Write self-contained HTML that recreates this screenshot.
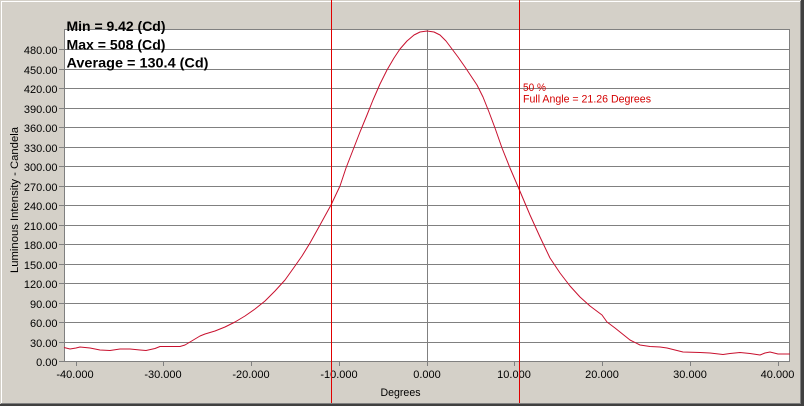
<!DOCTYPE html>
<html>
<head>
<meta charset="utf-8">
<style>
html,body{margin:0;padding:0;background:#D4D0C8;}
svg{display:block;}
text{font-family:"Liberation Sans",Arial,sans-serif;}
</style>
</head>
<body>
<svg width="804" height="406" viewBox="0 0 804 406" xmlns="http://www.w3.org/2000/svg">
  <rect x="0" y="0" width="804" height="406" fill="#D4D0C8"/>
  <!-- window frame -->
  <rect x="1" y="1" width="799" height="1" fill="#ffffff"/>
  <rect x="1" y="1" width="1" height="402" fill="#ffffff"/>
  <rect x="800" y="1" width="1" height="402" fill="#808080"/>
  <rect x="801" y="0" width="3" height="406" fill="#404040"/>
  <rect x="1" y="403" width="800" height="1" fill="#808080"/>
  <rect x="0" y="404" width="804" height="2" fill="#404040"/>

  <!-- plot area -->
  <rect x="64" y="29" width="726" height="333" fill="#808080"/>
  <rect x="65" y="30" width="724" height="331" fill="#ffffff"/>

  <!-- horizontal gridlines -->
  <g fill="#808080">
    <rect x="64" y="342" width="726" height="1"/>
    <rect x="64" y="322" width="726" height="1"/>
    <rect x="64" y="303" width="726" height="1"/>
    <rect x="64" y="283" width="726" height="1"/>
    <rect x="64" y="264" width="726" height="1"/>
    <rect x="64" y="244" width="726" height="1"/>
    <rect x="64" y="225" width="726" height="1"/>
    <rect x="64" y="205" width="726" height="1"/>
    <rect x="64" y="186" width="726" height="1"/>
    <rect x="64" y="166" width="726" height="1"/>
    <rect x="64" y="147" width="726" height="1"/>
    <rect x="64" y="127" width="726" height="1"/>
    <rect x="64" y="108" width="726" height="1"/>
    <rect x="64" y="88" width="726" height="1"/>
    <rect x="64" y="69" width="726" height="1"/>
    <rect x="64" y="49" width="726" height="1"/>
    <!-- center vertical gridline -->
    <rect x="427" y="29" width="1" height="332"/>
  </g>

  <!-- y ticks -->
  <g fill="#808080">
    <rect x="59" y="361" width="5" height="1"/>
    <rect x="59" y="342" width="5" height="1"/>
    <rect x="59" y="322" width="5" height="1"/>
    <rect x="59" y="303" width="5" height="1"/>
    <rect x="59" y="283" width="5" height="1"/>
    <rect x="59" y="264" width="5" height="1"/>
    <rect x="59" y="244" width="5" height="1"/>
    <rect x="59" y="225" width="5" height="1"/>
    <rect x="59" y="205" width="5" height="1"/>
    <rect x="59" y="186" width="5" height="1"/>
    <rect x="59" y="166" width="5" height="1"/>
    <rect x="59" y="147" width="5" height="1"/>
    <rect x="59" y="127" width="5" height="1"/>
    <rect x="59" y="108" width="5" height="1"/>
    <rect x="59" y="88" width="5" height="1"/>
    <rect x="59" y="69" width="5" height="1"/>
    <rect x="59" y="49" width="5" height="1"/>
  </g>

  <!-- x ticks -->
  <g fill="#808080">
    <rect x="76" y="361" width="1" height="5"/>
    <rect x="163" y="361" width="1" height="5"/>
    <rect x="251" y="361" width="1" height="5"/>
    <rect x="339" y="361" width="1" height="5"/>
    <rect x="427" y="361" width="1" height="5"/>
    <rect x="514" y="361" width="1" height="5"/>
    <rect x="602" y="361" width="1" height="5"/>
    <rect x="690" y="361" width="1" height="5"/>
    <rect x="778" y="361" width="1" height="5"/>
  </g>

  <!-- y tick labels -->
  <g font-size="11" fill="#000" text-anchor="end">
    <text x="57.5" y="366">0.00</text>
    <text x="57.5" y="347">30.00</text>
    <text x="57.5" y="327">60.00</text>
    <text x="57.5" y="308">90.00</text>
    <text x="57.5" y="288">120.00</text>
    <text x="57.5" y="269">150.00</text>
    <text x="57.5" y="249">180.00</text>
    <text x="57.5" y="230">210.00</text>
    <text x="57.5" y="210">240.00</text>
    <text x="57.5" y="191">270.00</text>
    <text x="57.5" y="171">300.00</text>
    <text x="57.5" y="152">330.00</text>
    <text x="57.5" y="132">360.00</text>
    <text x="57.5" y="113">390.00</text>
    <text x="57.5" y="93">420.00</text>
    <text x="57.5" y="74">450.00</text>
    <text x="57.5" y="54">480.00</text>
  </g>

  <!-- x tick labels -->
  <g font-size="11" fill="#000" text-anchor="middle">
    <text x="75" y="378">-40.000</text>
    <text x="163" y="378">-30.000</text>
    <text x="251" y="378">-20.000</text>
    <text x="339" y="378">-10.000</text>
    <text x="427" y="378">0.000</text>
    <text x="514" y="378">10.000</text>
    <text x="602" y="378">20.000</text>
    <text x="690" y="378">30.000</text>
    <text x="777.5" y="378">40.000</text>
  </g>

  <!-- axis titles -->
  <text x="400.5" y="396" font-size="11" text-anchor="middle" textLength="40" lengthAdjust="spacingAndGlyphs">Degrees</text>
  <text transform="translate(18,200) rotate(-90)" x="0" y="0" font-size="11" text-anchor="middle" textLength="146" lengthAdjust="spacingAndGlyphs">Luminous Intensity - Candela</text>

  <!-- data curve -->
  <polyline fill="none" stroke="#c8102e" stroke-width="1" stroke-linejoin="round" points="
    64,347.5 70,349 76,348 80,347 90,348 100,350 110,350.5 120,349 130,349 140,350 146,350.5
    155,348.5 160,346.5 170,346.5 180,346.5 185,345 190,342 200,336 205,334 215,331 225,327
    235,322 245,316 255,309 265,301 275,291 285,280 295,266 302,256 310,243 320,225 331,205
    340,186 346,168 353,150 360,132 367,115 373,100 380,84 387,70 394,58 400,49 407,41 414,35
    420,32 427,31 434,32 440,35 446,41 452,49 458,57 465,67 471,76 477,85 483,97 489,112
    495,128 502,148 510,168 519,189 530,215 540,237
    550,258 560,273 570,286 580,297 590,306 602,315 607,322 615,328 625,336 630,340 640,345
    650,346.5 660,347 667,348 675,350 683,352 700,352.5 710,353 723,354.5 730,353.5 740,352.5
    750,353.5 760,355 765,353 770,352 778,354 790,354"/>

  <!-- 50% markers -->
  <rect x="331" y="0" width="1" height="403" fill="#e00000"/>
  <rect x="519" y="0" width="1" height="403" fill="#e00000"/>

  <!-- annotations -->
  <g fill="#d40000" font-size="11">
    <text x="523" y="91" textLength="23" lengthAdjust="spacingAndGlyphs">50 %</text>
    <text x="523" y="102.5" textLength="128" lengthAdjust="spacingAndGlyphs">Full Angle = 21.26 Degrees</text>
  </g>

  <!-- stats -->
  <g font-size="14" font-weight="bold" fill="#000">
    <text x="66.5" y="31" textLength="99" lengthAdjust="spacingAndGlyphs">Min = 9.42 (Cd)</text>
    <text x="66.5" y="49.5" textLength="99" lengthAdjust="spacingAndGlyphs">Max = 508 (Cd)</text>
    <text x="66.5" y="67.5" textLength="142" lengthAdjust="spacingAndGlyphs">Average = 130.4 (Cd)</text>
  </g>
</svg>
</body>
</html>
